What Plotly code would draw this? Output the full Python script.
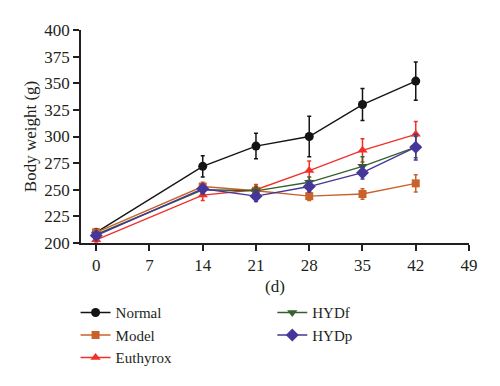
import plotly.graph_objects as go

days = [0, 14, 21, 28, 35, 42]
normal = [210, 272, 291, 300, 330, 352]
normal_err = [3, 10, 12, 19, 15, 18]
model = [210, 253, 249, 244, 246, 256]
model_err = [2, 4, 4, 4, 5, 8]
euthyrox = [203, 245, 250, 268, 287, 302]
euthyrox_err = [2, 5, 5, 9, 11, 12]
hydf = [208, 250, 249, 257, 272, 290]
hydf_err = [2, 4, 4, 5, 9, 10]
hydp = [207, 251, 244, 253, 266, 290]
hydp_err = [2, 4, 5, 5, 6, 12]

series = [
    ("Normal", normal, normal_err, "#141414", "circle", 9, "legend"),
    ("Model", model, model_err, "#c9622a", "square", 8, "legend"),
    ("Euthyrox", euthyrox, euthyrox_err, "#f2302a", "triangle-up", 9, "legend"),
    ("HYDf", hydf, hydf_err, "#35622c", "triangle-down", 9, "legend2"),
    ("HYDp", hydp, hydp_err, "#46369a", "diamond", 10, "legend2"),
]

font_family = "Liberation Serif"
fig = go.Figure()
for name, vals, err, color, sym, size, leg in series:
    fig.add_trace(go.Scatter(
        x=days, y=vals, name=name, mode="lines+markers",
        line=dict(color=color, width=1.4),
        marker=dict(symbol=sym, size=size, color=color),
        error_y=dict(type="data", array=err, visible=True, color=color,
                     thickness=1.5, width=2),
        legend=leg,
    ))

legend_common = dict(
    font=dict(family=font_family, size=15, color="#231f20"),
    bgcolor="rgba(0,0,0,0)", tracegroupgap=0,
    xanchor="left", yanchor="top", orientation="v",
)
fig.update_layout(
    width=492, height=378,
    margin=dict(l=73, r=31, t=22, b=143, autoexpand=False),
    paper_bgcolor="white", plot_bgcolor="white",
    font=dict(family=font_family, size=16, color="#231f20"),
    showlegend=True,
    legend=dict(x=-0.014, y=-0.25, **legend_common),
    legend2=dict(x=0.493, y=-0.25, **legend_common),
    xaxis=dict(
        range=[-2, 49], tickvals=[0, 7, 14, 21, 28, 35, 42, 49],
        showline=True, linecolor="#231f20", linewidth=1.5,
        ticks="outside", ticklen=6, tickwidth=1.5, tickcolor="#231f20",
        showgrid=False, zeroline=False,
        title=dict(text="(d)", font=dict(size=17), standoff=6),
        tickfont=dict(size=17),
    ),
    yaxis=dict(
        range=[200, 400], dtick=25,
        showline=True, linecolor="#231f20", linewidth=1.5,
        ticks="outside", ticklen=6, tickwidth=1.5, tickcolor="#231f20",
        showgrid=False, zeroline=False,
        title=dict(text="Body weight (g)", font=dict(size=17), standoff=3),
        tickfont=dict(size=17),
    ),
)
fig.write_html("out.html")
